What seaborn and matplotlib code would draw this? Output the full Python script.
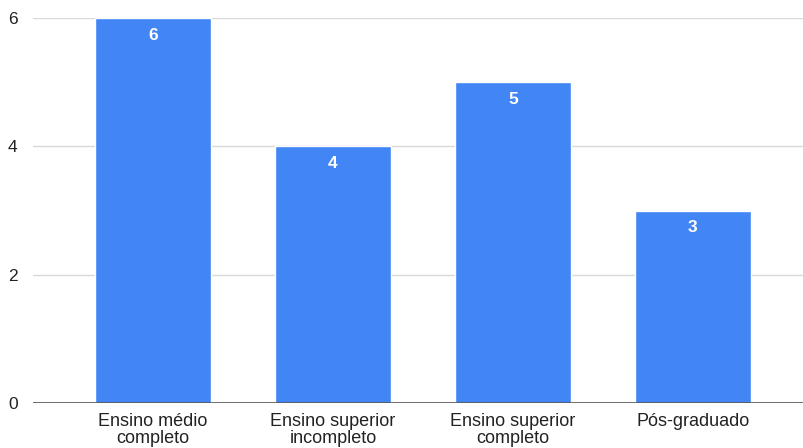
import matplotlib
matplotlib.use("Agg")
import matplotlib.pyplot as plt
import seaborn as sns
import pandas as pd

categories = ["Ensino médio\ncompleto", "Ensino superior\nincompleto",
              "Ensino superior\ncompleto", "Pós-graduado"]
counts = [6, 4, 5, 3]
yticks = [0, 2, 4, 6]

sns.set_theme(style="white")
plt.rcParams["font.family"] = ["Liberation Sans", "DejaVu Sans"]

df = pd.DataFrame({"categoria": categories, "total": counts})

fig = plt.figure(figsize=(8.04, 4.48), dpi=100)
ax = fig.add_axes([0.041, 0.1004, 0.959, 0.8594])

sns.barplot(data=df, x="categoria", y="total", color="#4285F4",
            saturation=1, width=0.645, ax=ax, zorder=3)

ax.set_ylim(0, 6)
ax.set_xlim(-0.667, 3.617)
ax.set_yticks(yticks)
ax.set_yticklabels([str(t) for t in yticks], fontsize=12.5, color="#222222")
ax.tick_params(axis="x", labelsize=13, labelcolor="#222222", length=0, pad=7)
ax.tick_params(axis="y", length=0, pad=11)
for lbl in ax.get_xticklabels():
    lbl.set_linespacing(1.05)
ax.set_xlabel("")
ax.set_ylabel("")

for t in yticks[1:]:
    ax.axhline(t, color="#d9d9d9", lw=1, zorder=1)
ax.axhline(0, color="#555555", lw=1.2, zorder=4)

for s in ax.spines.values():
    s.set_visible(False)

for bar, v in zip(ax.patches, counts):
    ax.annotate(str(v), (bar.get_x() + bar.get_width() / 2, v),
                xytext=(0, -7), textcoords="offset points",
                ha="center", va="top", color="white", fontsize=12.5,
                fontweight="bold", zorder=5)

fig.savefig("out.png", dpi=100)
